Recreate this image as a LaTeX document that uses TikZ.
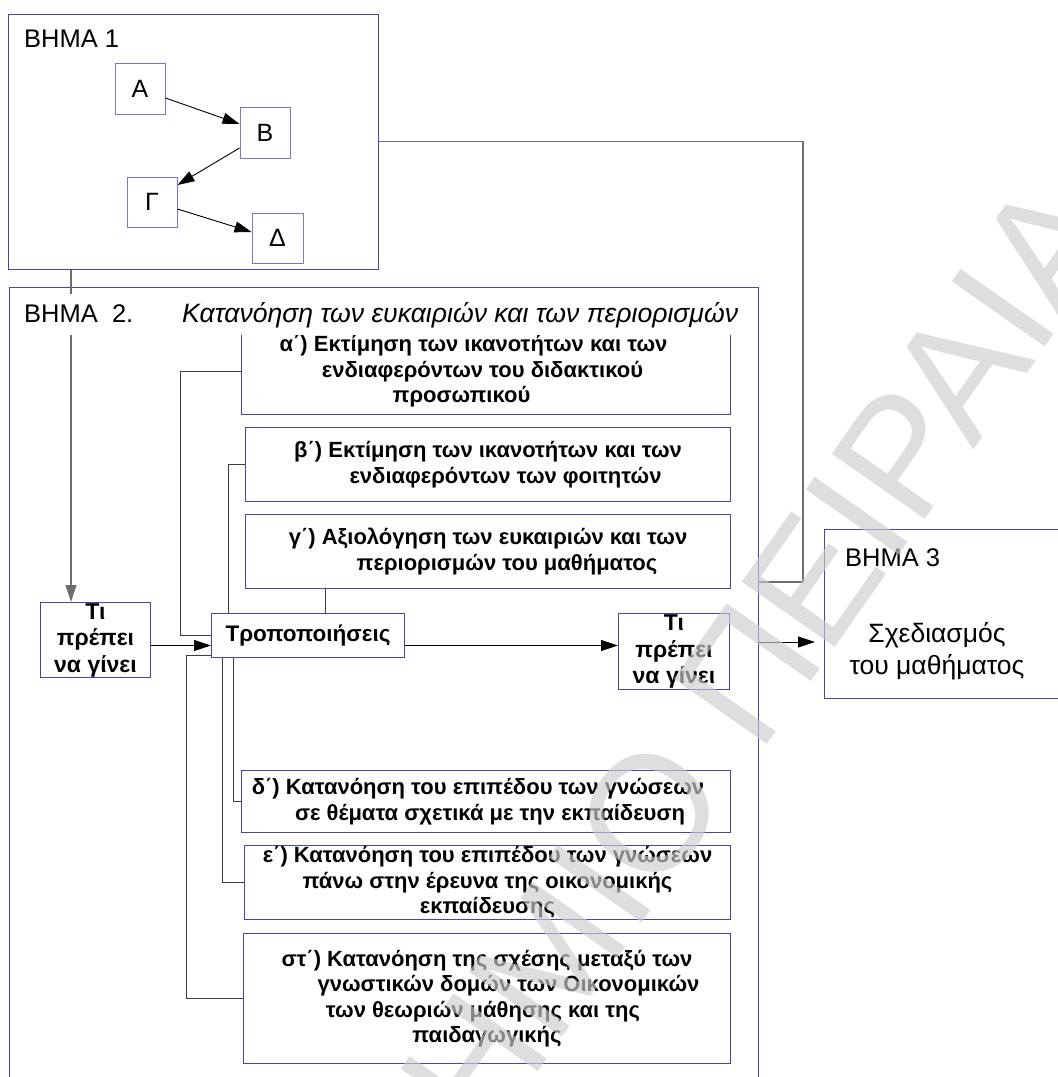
\documentclass[tikz,border=0pt]{standalone}
\usepackage{fontspec}
\setmainfont{Liberation Sans}
\usetikzlibrary{arrows.meta}
\definecolor{bd}{RGB}{70,70,170}
\definecolor{bdl}{RGB}{120,120,200}
\definecolor{ln}{RGB}{60,60,60}
\definecolor{lg}{RGB}{110,110,110}
\definecolor{wmc}{RGB}{205,205,205}
\newcommand\rs[1]{\hspace*{#1pt}\mbox{}}
\newcommand\ls[1]{\mbox{}\hspace*{#1pt}}
\begin{document}
\begin{tikzpicture}[x=1pt,y=-1pt,
  bigbox/.style={draw=bd, line width=1pt, inner sep=0pt, fill=white},
  sbox/.style={draw=bdl, line width=1pt, inner sep=0pt, fill=white, font=\fontsize{25}{28}\selectfont},
  tbox/.style={draw=bd, line width=1pt, inner sep=0pt, fill=white, align=center, font=\bfseries\fontsize{22}{25.5}\selectfont},
  tibox/.style={draw=bd, line width=1pt, inner sep=0pt, fill=white, align=center, font=\bfseries\fontsize{23}{26.5}\selectfont},
  conn/.style={draw=ln, line width=0.9pt},
  gconn/.style={draw=lg, line width=1.3pt},
  arr/.style={-{Triangle[length=17pt,width=11pt]}, draw=black, line width=0.9pt},
  plain/.style={inner sep=0pt, anchor=base west},
  watermark/.style={inner sep=0pt, text=wmc, text opacity=0.65, font=\fontsize{165}{165}\selectfont}]
\useasboundingbox (0,0) rectangle (1058,1077);
\clip (0,0) rectangle (1058,1077);
\fill[white] (0,0) rectangle (1058,1077);

% STEP 1
\node[bigbox, minimum width=370, minimum height=255] (b1) at (193,141.5) {};
\node[plain, font=\fontsize{25.5}{28}\selectfont] (b1t) at (24,47) {ΒΗΜΑ 1};
\node[sbox, minimum width=50, minimum height=51] (A) at (140,88.5) {Α};
\node[sbox, minimum width=50, minimum height=51] (B) at (265,132.5) {Β};
\node[sbox, minimum width=50, minimum height=50] (G) at (152,202) {Γ};
\node[sbox, minimum width=51, minimum height=50] (D) at (277.5,238) {Δ};
\draw[arr] ([yshift=-9.5pt]A.east) -- ([yshift=8.5pt]B.west);
\draw[arr] ([yshift=-15.5pt]B.west) -- ([yshift=17pt]G.east);
\draw[arr] ([yshift=-7pt]G.east) -- ([yshift=6pt]D.west);

% STEP 2 frame
\node[bigbox, minimum width=749, minimum height=820, anchor=north west] (b2) at (9,287) {};

% boxes inside step 2
\node[tbox, minimum width=489, minimum height=86, anchor=north west] (al) at (241,328)
  {α΄) Εκτίμηση των ικανοτήτων και των\rs{25}\\ενδιαφερόντων του διδακτικού\rs{7}\\προσωπικού\rs{49}};
\node[tbox, minimum width=485, minimum height=74, anchor=north west] (be) at (245,427)
  {β΄) Εκτίμηση των ικανοτήτων και των\\\ls{35}ενδιαφερόντων των φοιτητών};
\node[tbox, minimum width=485, minimum height=74, anchor=north west] (ga) at (245,514)
  {γ΄) Αξιολόγηση των ευκαιριών και των\\\ls{38}περιορισμών του μαθήματος};
\node[tbox, minimum width=193, minimum height=44, anchor=north west, font=\bfseries\fontsize{22.5}{24}\selectfont] (tr) at (211,613) {Τροποποιήσεις};
\node[tibox, minimum width=110, minimum height=75, anchor=north west] (tl) at (40,602) {Τι\\πρέπει\\να γίνει};
\node[tibox, minimum width=111, minimum height=76, anchor=north west] (tR) at (618,613) {Τι\\πρέπει\\να γίνει};
\node[tbox, minimum width=489, minimum height=62, anchor=north west] (de) at (241,770)
  {δ΄) Κατανόηση του επιπέδου των γνώσεων\rs{16}\\\ls{8}σε θέματα σχετικά με την εκπαίδευση};
\node[tbox, minimum width=486, minimum height=74, anchor=north west] (ep) at (244,845)
  {ε΄) Κατανόηση του επιπέδου των γνώσεων\\πάνω στην έρευνα της οικονομικής\\εκπαίδευσης};
\node[tbox, minimum width=487, minimum height=130, anchor=north west] (st) at (243,933)
  {στ΄) Κατανόηση της σχέσης μεταξύ των\\\ls{43}γνωστικών δομών των Οικονομικών\\των θεωριών μάθησης και της\rs{8}\\παιδαγωγικής};

% connectors step 2
\draw[arr, draw=lg, line width=1.1pt] (b1.south -| 71,0) -- (tl.north -| 71,0);
\draw[conn] (al.west) -- ++(-61,0) |- (tr.west);
\draw[conn] (be.west) -- ++(-17,0) coordinate (cb) -- (cb |- tr.north);
\draw[conn] ([xshift=-162.5pt]ga.south) -- ([xshift=-162.5pt]ga.south |- tr.north);
\draw[conn] (de.west) -- ++(-8,0) coordinate (cd) -- (cd |- tr.south);
\draw[conn] (ep.west) -- ++(-22,0) coordinate (ce) -- (ce |- tr.south);
\draw[conn] (st.west) -- ++(-57,0) |- ([yshift=-20pt]tr.west);
\draw[arr] ([yshift=-5.5pt]tl.east) -- ([yshift=-5.5pt]tl.east -| tr.west);
\draw[arr] ([yshift=-10pt]tr.east) -- ([yshift=-10pt]tr.east -| tR.west);

% title of step 2 (white band hides lines behind it)
\node[fill=white, inner sep=0pt, minimum width=738, minimum height=41, anchor=north west] (t2) at (14,294) {};
\node[plain, font=\fontsize{25.5}{28}\selectfont] (t2a) at (24,322) {ΒΗΜΑ\ \ 2.};
\node[plain, font=\itshape\fontsize{26.6}{28}\selectfont] (t2b) at (182,322) {Κατανόηση των ευκαιριών και των περιορισμών};

% STEP 3
\node[bigbox, minimum width=260, minimum height=169, anchor=north west] (b3) at (824,529) {};
\node[plain, font=\fontsize{25.5}{28}\selectfont] (b3t) at (845,566) {ΒΗΜΑ 3};
\node[inner sep=0pt, align=center, font=\fontsize{26.5}{32}\selectfont] (b3s) at (937,651) {Σχεδιασμός\\του μαθήματος};

% links between steps
\coordinate (c1) at (803,582);
\draw[gconn] (b1.east) -| (c1) -- (c1 -| b2.east);
\coordinate (c2) at (758,642);
\draw[arr, shorten >=9pt] (c2) -- (c2 -| b3.west);

% watermark
\node[watermark, rotate=55, anchor=base east] (wm) at (1126,232) {ΠΑΝΕΠΙΣΤΗΜΙΟ ΠΕΙΡΑΙΑ};
\end{tikzpicture}
\end{document}
